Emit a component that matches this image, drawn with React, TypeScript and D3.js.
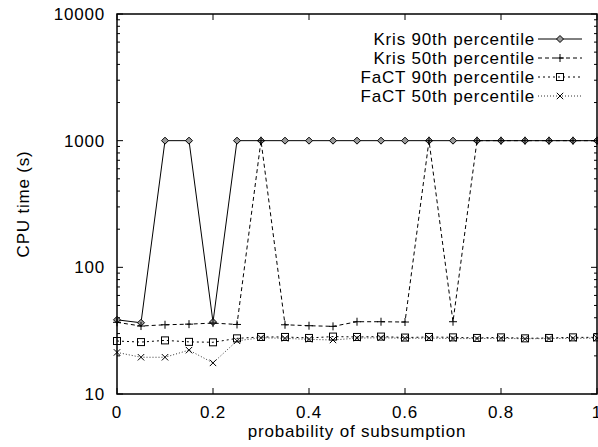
import React from "react";
import * as d3 from "d3";

const xs = [0, 0.05, 0.1, 0.15, 0.2, 0.25, 0.3, 0.35, 0.4, 0.45, 0.5, 0.55, 0.6, 0.65, 0.7, 0.75, 0.8, 0.85, 0.9, 0.95, 1];
const kris90 = [38.5, 36.5, 1000, 1000, 37, 1000, 1000, 1000, 1000, 1000, 1000, 1000, 1000, 1000, 1000, 1000, 1000, 1000, 1000, 1000, 1000];
const kris50 = [36.8, 34.4, 35.2, 35.6, 36.3, 35.4, 1000, 35.2, 34.6, 34.2, 37.2, 37.2, 37, 1000, 37.2, 1000, 1000, 1000, 1000, 1000, 1000];
const fact90 = [26.2, 25.7, 26.5, 25.8, 25.6, 27.5, 28.2, 28.2, 27.7, 28.4, 28.2, 28.4, 27.9, 28.2, 28, 27.7, 28, 27.5, 27.7, 28, 28];
const fact50 = [21.3, 19.5, 19.5, 22.2, 17.6, 26.3, 27.8, 27.5, 27, 26.7, 27.6, 27.8, 27.5, 27.6, 27.4, 27.4, 27.5, 27.3, 27.4, 27.5, 27.6];

const seriesNames = ["Kris 90th percentile", "Kris 50th percentile", "FaCT 90th percentile", "FaCT 50th percentile"];
const xTicks = [0, 0.2, 0.4, 0.6, 0.8, 1];
const yTicks = [10, 100, 1000, 10000];

const W = 598;
const H = 447;
const L = 117, R = 597, T = 14, B = 394;

const font = "'Liberation Sans', Arial, Helvetica, sans-serif";

const Marker = ({ kind, x, y }: { kind: number; x: number; y: number }) => {
  if (kind === 0) {
    const r = 3.5;
    return <path d={`M${x},${y - r}L${x + r},${y}L${x},${y + r}L${x - r},${y}Z`} fill="#999" stroke="#000" strokeWidth={1} />;
  }
  if (kind === 1) {
    const r = 4;
    return <path d={`M${x - r},${y}H${x + r}M${x},${y - r}V${y + r}`} stroke="#000" strokeWidth={1} />;
  }
  if (kind === 2) {
    const r = 3.5;
    return <rect x={x - r} y={y - r} width={2 * r} height={2 * r} fill="none" stroke="#000" strokeWidth={1} />;
  }
  const r = 3.2;
  return <path d={`M${x - r},${y - r}L${x + r},${y + r}M${x - r},${y + r}L${x + r},${y - r}`} stroke="#000" strokeWidth={1} />;
};

export default function App() {
  const x = d3.scaleLinear().domain([0, 1]).range([L, R]);
  const y = d3.scaleLog().domain([10, 10000]).range([B, T]);
  const all = [kris90, kris50, fact90, fact50];
  const dashes = ["none", "4,3", "2,3", "1,2"];
  const colors = ["#000", "#000", "#000", "#333"];
  const line = d3
    .line<number>()
    .x((_, i) => x(xs[i]))
    .y((d) => y(d));

  const minor: number[] = [];
  [10, 100, 1000].forEach((dec) => {
    for (let k = 2; k <= 9; k++) minor.push(dec * k);
  });

  const textStyle = { fontFamily: font, fontSize: 17, letterSpacing: 0.8 } as const;

  return (
    <svg width={W} height={H} style={{ position: "absolute", left: 0, top: 0, background: "#fff" }}>
      {/* ticks */}
      {xTicks.map((t) => (
        <g key={"xt" + t}>
          <line x1={x(t)} x2={x(t)} y1={B} y2={B - 6} stroke="#000" />
          <line x1={x(t)} x2={x(t)} y1={T} y2={T + 6} stroke="#000" />
          <text x={x(t)} y={418} textAnchor="middle" style={textStyle}>
            {t}
          </text>
        </g>
      ))}
      {yTicks.map((t) => (
        <g key={"yt" + t}>
          <line x1={L} x2={L + 6} y1={y(t)} y2={y(t)} stroke="#000" />
          <line x1={R} x2={R - 6} y1={y(t)} y2={y(t)} stroke="#000" />
          <text x={105} y={y(t) + 6} textAnchor="end" style={textStyle}>
            {t}
          </text>
        </g>
      ))}
      {minor.map((t) => (
        <g key={"mt" + t}>
          <line x1={L} x2={L + 3} y1={y(t)} y2={y(t)} stroke="#000" />
          <line x1={R} x2={R - 3} y1={y(t)} y2={y(t)} stroke="#000" />
        </g>
      ))}
      {/* series */}
      {all.map((s, k) => (
        <g key={"s" + k}>
          <path d={line(s) || ""} fill="none" stroke={colors[k]} strokeWidth={1} strokeDasharray={dashes[k]} />
          {s.map((v, i) => (
            <Marker key={i} kind={k} x={x(xs[i])} y={y(v)} />
          ))}
        </g>
      ))}
      {/* legend */}
      {seriesNames.map((n, k) => {
        const ly = 39 + k * 19;
        return (
          <g key={"lg" + k}>
            <text x={535} y={ly + 6} textAnchor="end" style={textStyle}>
              {n}
            </text>
            <line x1={538} x2={582} y1={ly} y2={ly} stroke={colors[k]} strokeDasharray={dashes[k]} />
            <Marker kind={k} x={560} y={ly} />
          </g>
        );
      })}
      {/* frame */}
      <rect x={L} y={T} width={R - L} height={B - T} fill="none" stroke="#000" strokeWidth={1.5} />
      <text x={357} y={437} textAnchor="middle" style={textStyle}>
        probability of subsumption
      </text>
      <text transform={`translate(29,${(T + B) / 2}) rotate(-90)`} textAnchor="middle" style={textStyle}>
        CPU time (s)
      </text>
    </svg>
  );
}
